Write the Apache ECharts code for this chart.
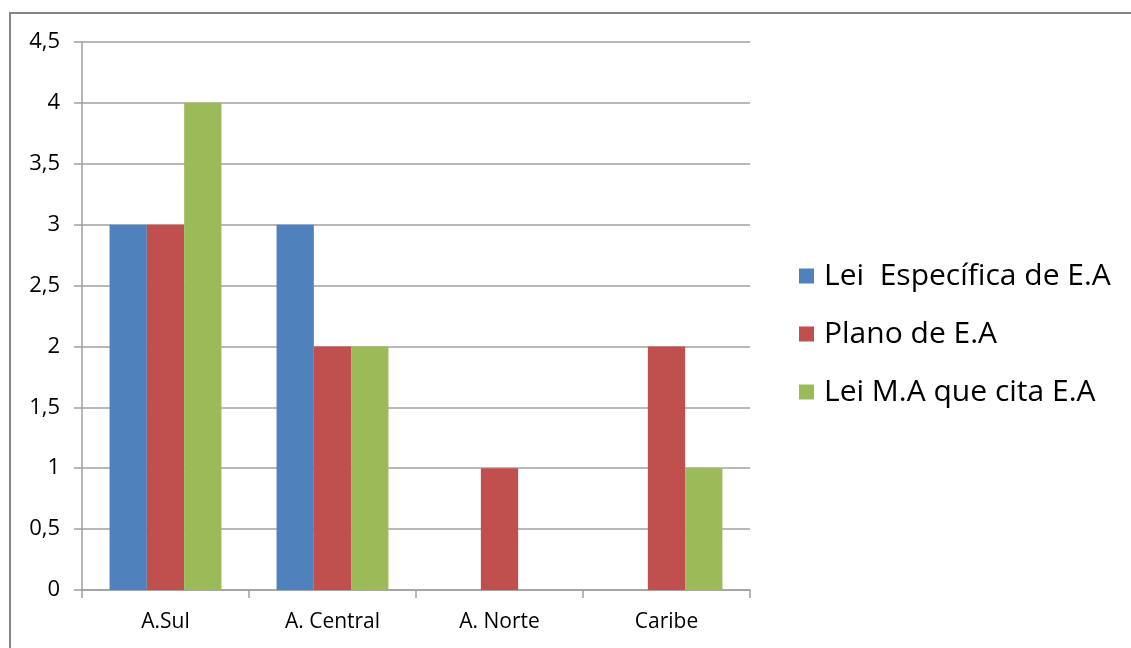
<!DOCTYPE html>
<html>
<head>
<meta charset="utf-8">
<script src="https://cdn.jsdelivr.net/npm/echarts@6/dist/echarts.min.js"></script>
<style>
  html, body { margin: 0; padding: 0; background: #fff; }
  #chart { width: 1131px; height: 648px; }
</style>
</head>
<body>
<div id="chart"></div>
<script>
// dados
var categories = ['A.Sul', 'A. Central', 'A. Norte', 'Caribe'];
var seriesNames = ['Lei  Específica de E.A', 'Plano de E.A', 'Lei M.A que cita E.A'];
var leiEspecifica = [3, 3, 0, 0];
var planoEA = [3, 2, 1, 2];
var leiMA = [4, 2, 0, 1];
var colors = ['#4F81BD', '#C0504D', '#9BBB59'];

var chart = echarts.init(document.getElementById('chart'));

function barSeries(name, data, color) {
  return {
    name: name,
    type: 'bar',
    data: data,
    barGap: 0,
    barCategoryGap: '33%',
    itemStyle: { color: color },
    emphasis: { disabled: true }
  };
}

var option = {
  animation: false,
  textStyle: { fontFamily: 'Open Sans' },
  graphic: [{
    type: 'rect',
    shape: { x: 10, y: 13, width: 1140, height: 660 },
    style: { fill: 'none', stroke: '#868686', lineWidth: 2 },
    silent: true
  }],
  grid: { left: 82, right: 381, top: 42, bottom: 58 },
  legend: {
    orient: 'vertical',
    left: 794,
    top: 256,
    itemWidth: 15,
    itemHeight: 15,
    itemGap: 28,
    icon: 'rect',
    textStyle: { fontSize: 30, lineHeight: 30, color: '#000', fontFamily: 'Open Sans', padding: [0, 0, 0, 5] },
    data: seriesNames
  },
  xAxis: {
    type: 'category',
    data: categories,
    axisLine: { lineStyle: { color: '#A0A0A0', width: 1.5 } },
    axisTick: { show: true, length: 8, lineStyle: { color: '#A0A0A0', width: 1.5 } },
    axisLabel: { color: '#000', fontSize: 21, margin: 22 }
  },
  yAxis: {
    type: 'value',
    min: 0,
    max: 4.5,
    interval: 0.5,
    axisLine: { show: true, lineStyle: { color: '#A0A0A0', width: 1.5 } },
    axisTick: { show: true, length: 8, lineStyle: { color: '#A0A0A0', width: 1.5 } },
    splitLine: { lineStyle: { color: '#A0A0A0', width: 1.5 } },
    axisLabel: {
      color: '#000',
      fontSize: 22,
      margin: 22,
      formatter: function (v) { return String(v).replace('.', ','); }
    }
  },
  series: [
    barSeries(seriesNames[0], leiEspecifica, colors[0]),
    barSeries(seriesNames[1], planoEA, colors[1]),
    barSeries(seriesNames[2], leiMA, colors[2])
  ]
};

chart.setOption(option);
</script>
</body>
</html>
